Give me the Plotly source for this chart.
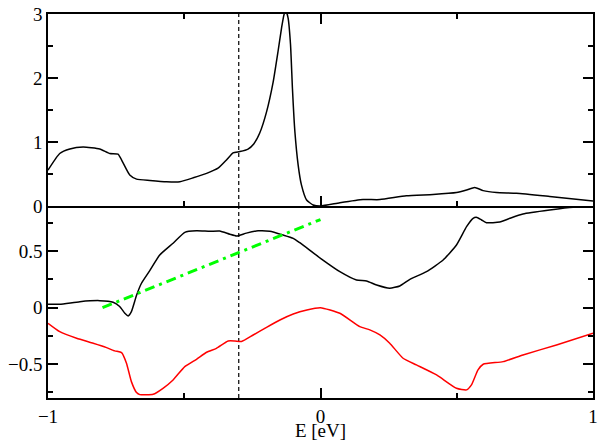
import plotly.graph_objects as go

# Top panel: black curve
top_E = [-1.0, -0.957, -0.92, -0.871, -0.81, -0.773, -0.743, -0.724, -0.70, -0.675,
         -0.626, -0.565, -0.516, -0.467, -0.418, -0.376, -0.345, -0.321, -0.296, -0.266,
         -0.245, -0.223, -0.198, -0.174, -0.156, -0.143, -0.134, -0.127, -0.119, -0.11,
         -0.103, -0.094, -0.082, -0.07, -0.051, -0.027, 0.0, 0.071, 0.156, 0.218,
         0.315, 0.413, 0.499, 0.536, 0.566, 0.597, 0.646, 0.719, 0.841, 1.0]
top_val = [0.56, 0.82, 0.89, 0.92, 0.89, 0.82, 0.81, 0.67, 0.485, 0.42,
           0.40, 0.38, 0.38, 0.44, 0.51, 0.59, 0.72, 0.83, 0.85, 0.89,
           0.97, 1.14, 1.47, 1.93, 2.41, 2.78, 2.99, 3.05, 2.94, 2.52,
           1.84, 1.16, 0.64, 0.33, 0.094, 0.016, 0.0, 0.05, 0.10, 0.10,
           0.16, 0.18, 0.21, 0.25, 0.29, 0.24, 0.21, 0.20, 0.15, 0.08]

# Bottom panel: black curve
bot_black_E = [-1.0, -0.957, -0.883, -0.81, -0.761, -0.737, -0.718, -0.706, -0.694, -0.675,
               -0.657, -0.626, -0.59, -0.541, -0.498, -0.455, -0.406, -0.37, -0.333, -0.308,
               -0.272, -0.229, -0.186, -0.137, -0.1, -0.076, 0.0, 0.071, 0.132, 0.169,
               0.206, 0.254, 0.291, 0.328, 0.389, 0.45, 0.499, 0.536, 0.56, 0.572,
               0.591, 0.609, 0.658, 0.695, 0.743, 0.841, 0.927, 1.0]
bot_black_val = [0.03, 0.03, 0.053, 0.062, 0.048, 0.01, -0.05, -0.073, -0.035, 0.11,
                 0.216, 0.33, 0.466, 0.57, 0.667, 0.68, 0.676, 0.678, 0.65, 0.634,
                 0.66, 0.68, 0.676, 0.643, 0.614, 0.575, 0.437, 0.319, 0.245, 0.236,
                 0.20, 0.172, 0.192, 0.251, 0.319, 0.422, 0.555, 0.717, 0.791, 0.80,
                 0.776, 0.752, 0.758, 0.791, 0.829, 0.864, 0.888, 0.89]

# Bottom panel: red curve
bot_red_E = [-1.0, -0.957, -0.895, -0.834, -0.785, -0.755, -0.73, -0.712, -0.694, -0.675,
             -0.663, -0.614, -0.578, -0.541, -0.498, -0.455, -0.418, -0.382, -0.339, -0.314,
             -0.29, -0.247, -0.198, -0.149, -0.1, -0.05, 0.0, 0.071, 0.144, 0.181,
             0.218, 0.254, 0.303, 0.352, 0.426, 0.499, 0.536, 0.554, 0.578, 0.597,
             0.67, 0.743, 0.866, 1.0]
bot_red_val = [-0.138, -0.212, -0.271, -0.315, -0.354, -0.383, -0.398, -0.492, -0.655, -0.752,
               -0.77, -0.767, -0.714, -0.64, -0.522, -0.457, -0.395, -0.36, -0.295, -0.295,
               -0.30, -0.242, -0.174, -0.109, -0.056, -0.02, 0.0, -0.05, -0.168, -0.197,
               -0.242, -0.315, -0.448, -0.507, -0.596, -0.714, -0.728, -0.684, -0.551, -0.501,
               -0.478, -0.419, -0.33, -0.227]

# Green dash-dot line
green_E = [-0.8, 0.0]
green_val = [0.0, 0.78]

# Vertical marker
marker_E = -0.3
top_range = [0, 3]
bot_range = [-0.8, 0.9]

font_family = "Liberation Serif, Times New Roman, serif"

fig = go.Figure()
fig.add_trace(go.Scatter(x=top_E, y=top_val, mode="lines", xaxis="x2", yaxis="y2",
                         line=dict(color="black", width=1.5, shape="spline", smoothing=0.5)))
fig.add_trace(go.Scatter(x=[marker_E, marker_E], y=top_range, mode="lines", xaxis="x2", yaxis="y2",
                         line=dict(color="black", width=1.2, dash="4px,3px")))
fig.add_trace(go.Scatter(x=[marker_E, marker_E], y=bot_range, mode="lines", xaxis="x", yaxis="y",
                         line=dict(color="black", width=1.2, dash="4px,3px")))
fig.add_trace(go.Scatter(x=bot_black_E, y=bot_black_val, mode="lines", xaxis="x", yaxis="y",
                         line=dict(color="black", width=1.5, shape="spline", smoothing=0.5)))
fig.add_trace(go.Scatter(x=bot_red_E, y=bot_red_val, mode="lines", xaxis="x", yaxis="y",
                         line=dict(color="#ff0000", width=1.5, shape="spline", smoothing=0.5)))
fig.add_trace(go.Scatter(x=green_E, y=green_val, mode="lines", xaxis="x", yaxis="y",
                         line=dict(color="#00ff00", width=3, dash="10px,5px,3px,5px")))

axis_common = dict(showline=True, linecolor="black", linewidth=1.5, mirror="allticks",
                   ticks="inside", ticklen=10, tickwidth=1.5, tickcolor="black",
                   showgrid=False, zeroline=False, automargin=False,
                   tickfont=dict(family=font_family, size=19, color="black"))

fig.update_layout(
    width=599, height=441,
    margin=dict(l=48, r=6, t=14, b=43),
    paper_bgcolor="white", plot_bgcolor="white",
    showlegend=False,
    font=dict(family=font_family, size=19, color="black"),
    xaxis=dict(axis_common, domain=[0, 1], anchor="y", range=[-1, 1], dtick=1, tick0=0,
               mirror=False,
               minor=dict(dtick=0.5, ticklen=5, ticks="inside", tickcolor="black", tickwidth=1.5),
               title=dict(text="E [eV]", font=dict(family=font_family, size=19), standoff=1)),
    yaxis=dict(axis_common, domain=[0, 0.5], anchor="x", range=bot_range, dtick=0.5, tick0=0,
               minor=dict(dtick=0.25, ticklen=5, ticks="inside", tickcolor="black", tickwidth=1.5)),
    xaxis2=dict(axis_common, domain=[0, 1], anchor="y2", range=[-1, 1], dtick=1, tick0=0,
                matches="x", showticklabels=False,
                minor=dict(dtick=0.5, ticklen=5, ticks="inside", tickcolor="black", tickwidth=1.5)),
    yaxis2=dict(axis_common, domain=[0.5, 1], anchor="x2", range=top_range, dtick=1, tick0=0,
                minor=dict(dtick=0.5, ticklen=5, ticks="inside", tickcolor="black", tickwidth=1.5)),
)

fig.write_html("out.html", config={"displayModeBar": False},
               post_script="document.body.style.margin='0';document.body.style.overflow='hidden';")
